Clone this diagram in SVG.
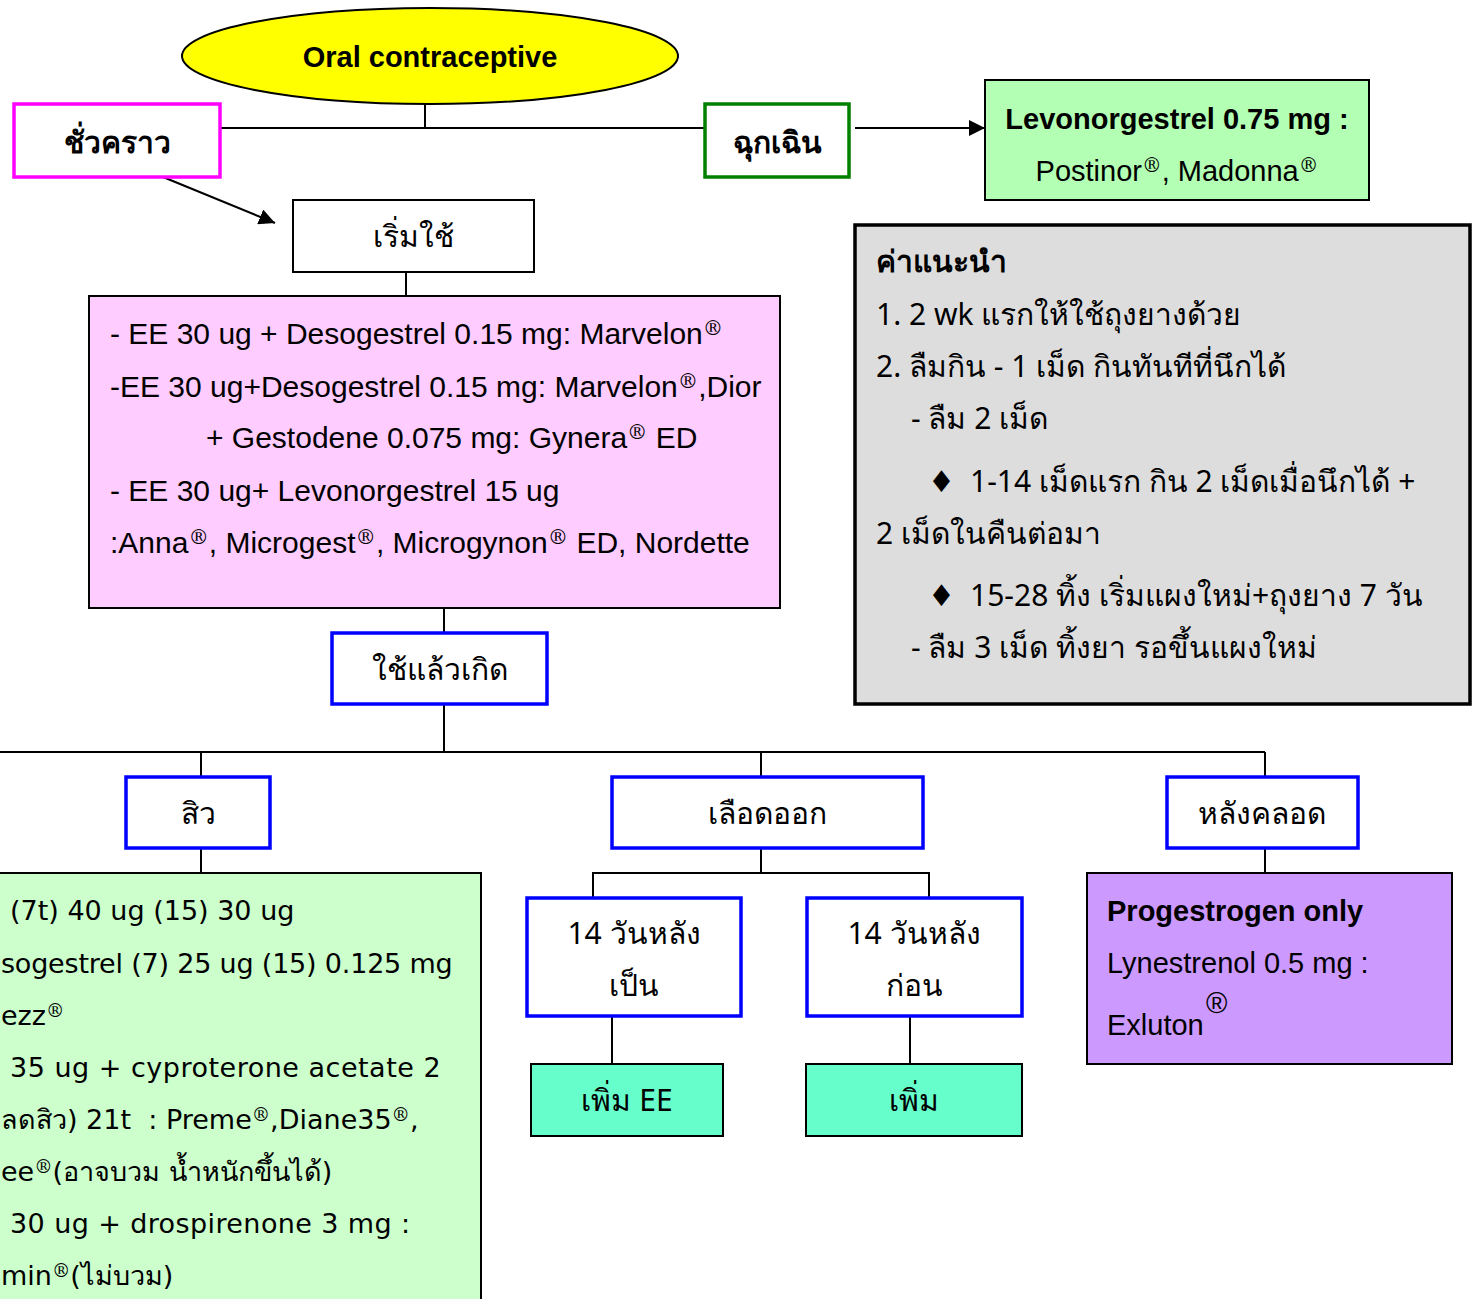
<svg xmlns="http://www.w3.org/2000/svg" width="1476" height="1299" viewBox="0 0 1476 1299">
<style>
.t{font-family:"Liberation Sans","Noto Sans","DejaVu Sans",sans-serif;font-size:29px;fill:#000}
.p{font-size:30px}
.th{font-family:"Noto Sans","DejaVu Sans","Liberation Sans",sans-serif;font-size:30px;fill:#000}
.d{font-family:"DejaVu Sans","Noto Sans",sans-serif;font-size:27px;fill:#000}
.b{font-weight:bold}
.c{text-anchor:middle}
.sup{font-size:68%;baseline-shift:45%;font-family:"DejaVu Serif","Liberation Serif",serif}
.line{stroke:#000;stroke-width:2;fill:none}
.blue{fill:#fff;stroke:#0000FF;stroke-width:3.5}
</style>
<defs>
<marker id="ah" viewBox="0 0 10 10" refX="10" refY="5" markerWidth="16" markerHeight="16" markerUnits="userSpaceOnUse" orient="auto">
<path d="M0,0 L10,5 L0,10 Z" fill="#000"/>
</marker>
</defs>
<rect width="1476" height="1299" fill="#fff"/>

<g id="connectors">
<line class="line" x1="425" y1="104" x2="425" y2="128"/>
<line class="line" x1="220" y1="128" x2="705" y2="128"/>
<line class="line" x1="163" y1="177" x2="275" y2="223" marker-end="url(#ah)"/>
<line class="line" x1="855" y1="128" x2="985" y2="128" marker-end="url(#ah)"/>
<line class="line" x1="406" y1="272" x2="406" y2="296"/>
<line class="line" x1="444" y1="608" x2="444" y2="632"/>
<line class="line" x1="444" y1="705" x2="444" y2="752"/>
<line class="line" x1="0" y1="752" x2="1265" y2="752"/>
<line class="line" x1="201" y1="752" x2="201" y2="776"/>
<line class="line" x1="761" y1="752" x2="761" y2="776"/>
<line class="line" x1="1265" y1="752" x2="1265" y2="776"/>
<line class="line" x1="201" y1="849" x2="201" y2="873"/>
<line class="line" x1="761" y1="849" x2="761" y2="873"/>
<polyline class="line" points="593,897 593,873 929,873 929,897"/>
<line class="line" x1="612" y1="1017" x2="612" y2="1064"/>
<line class="line" x1="910" y1="1017" x2="910" y2="1064"/>
<line class="line" x1="1265" y1="849" x2="1265" y2="873"/>
</g>

<g id="oral">
<ellipse cx="430" cy="56" rx="248" ry="48" fill="#FFFF00" stroke="#000" stroke-width="2"/>
<text class="t b c" x="430" y="67">Oral contraceptive</text>
</g>

<g id="temporary">
<rect x="14" y="104" width="206" height="73" fill="#fff" stroke="#FF00FF" stroke-width="3.5"/>
<text class="th b c" x="117" y="153" font-size="32">ชั่วคราว</text>
</g>

<g id="emergency">
<rect x="705" y="104" width="144" height="73" fill="#fff" stroke="#008000" stroke-width="3.5"/>
<text class="th b c" x="777" y="153" font-size="32">ฉุกเฉิน</text>
</g>

<g id="levonorgestrel">
<rect x="985" y="80" width="384" height="120" fill="#B3FFB3" stroke="#000" stroke-width="2"/>
<text class="t b c" x="1177" y="129">Levonorgestrel 0.75 mg :</text>
<text class="t c" x="1177" y="181">Postinor<tspan class="sup">®</tspan>, Madonna<tspan class="sup">®</tspan></text>
</g>

<g id="start">
<rect x="293" y="200" width="241" height="72" fill="#fff" stroke="#000" stroke-width="2"/>
<text class="th c" x="413" y="247">เริ่มใช้</text>
</g>

<g id="combined">
<rect x="89" y="296" width="691" height="312" fill="#FFCCFF" stroke="#000" stroke-width="2"/>
<text class="t p" x="110" y="344">- EE 30 ug + Desogestrel 0.15 mg: Marvelon<tspan class="sup">®</tspan></text>
<text class="t p" x="110" y="397">-EE 30 ug+Desogestrel 0.15 mg: Marvelon<tspan class="sup">®</tspan>,Dior</text>
<text class="t p" x="206" y="448">+ Gestodene 0.075 mg: Gynera<tspan class="sup">®</tspan> ED</text>
<text class="t p" x="110" y="501">- EE 30 ug+ Levonorgestrel 15 ug</text>
<text class="t p" x="110" y="553">:Anna<tspan class="sup">®</tspan>, Microgest<tspan class="sup">®</tspan>, Microgynon<tspan class="sup">®</tspan> ED, Nordette</text>
</g>

<g id="advice">
<rect x="855" y="225" width="615" height="479" fill="#DDDDDD" stroke="#000" stroke-width="3.5"/>
<text class="th b" x="876" y="272">ค่าแนะนำ</text>
<text class="th" x="876" y="325">1. 2 wk แรกให้ใช้ถุงยางด้วย</text>
<text class="th" x="876" y="377">2. ลืมกิน - 1 เม็ด กินทันทีที่นึกได้</text>
<text class="th" x="911" y="429">- ลืม 2 เม็ด</text>
<text class="th" x="928" y="492">♦</text>
<text class="th" x="970" y="492">1-14 เม็ดแรก กิน 2 เม็ดเมื่อนึกได้ +</text>
<text class="th" x="876" y="544">2 เม็ดในคืนต่อมา</text>
<text class="th" x="928" y="606">♦</text>
<text class="th" x="970" y="606">15-28 ทิ้ง เริ่มแผงใหม่+ถุงยาง 7 วัน</text>
<text class="th" x="911" y="658">- ลืม 3 เม็ด ทิ้งยา รอขึ้นแผงใหม่</text>
</g>

<g id="after-use">
<rect x="332" y="633" width="215" height="71" class="blue"/>
<text class="th c" x="440" y="680">ใช้แล้วเกิด</text>
</g>

<g id="acne">
<rect x="126" y="777" width="144" height="71" class="blue"/>
<text class="th c" x="198" y="824">สิว</text>
</g>

<g id="acne-pills">
<rect x="-2" y="873" width="483" height="440" fill="#CCFFCC" stroke="#000" stroke-width="2"/>
<text class="d" x="10" y="920">(7t) 40 ug (15) 30 ug</text>
<text class="d" x="1" y="973" letter-spacing="-0.2">sogestrel (7) 25 ug (15) 0.125 mg</text>
<text class="d" x="1" y="1025">ezz<tspan class="sup">®</tspan></text>
<text class="d" x="10" y="1077" letter-spacing="0.5">35 ug + cyproterone acetate 2</text>
<text class="d" x="1" y="1129">ลดสิว) 21t &#160;: Preme<tspan class="sup">®</tspan>,Diane35<tspan class="sup">®</tspan>,</text>
<text class="d" x="1" y="1181">ee<tspan class="sup">®</tspan>(อาจบวม น้ำหนักขึ้นได้)</text>
<text class="d" x="10" y="1233" letter-spacing="0.4">30 ug + drospirenone 3 mg :</text>
<text class="d" x="1" y="1285">min<tspan class="sup">®</tspan>(ไม่บวม)</text>
</g>

<g id="bleeding">
<rect x="612" y="777" width="311" height="71" class="blue"/>
<text class="th c" x="767" y="824">เลือดออก</text>
</g>

<g id="after-period">
<rect x="527" y="898" width="214" height="118" class="blue"/>
<text class="th c" x="634" y="944">14 วันหลัง</text>
<text class="th c" x="634" y="996">เป็น</text>
</g>

<g id="before-period">
<rect x="807" y="898" width="215" height="118" class="blue"/>
<text class="th c" x="914" y="944">14 วันหลัง</text>
<text class="th c" x="914" y="996">ก่อน</text>
</g>

<g id="add-ee">
<rect x="531" y="1064" width="192" height="72" fill="#66FFCC" stroke="#000" stroke-width="2"/>
<text class="th c" x="627" y="1111">เพิ่ม EE</text>
</g>

<g id="add">
<rect x="806" y="1064" width="216" height="72" fill="#66FFCC" stroke="#000" stroke-width="2"/>
<text class="th c" x="914" y="1111">เพิ่ม</text>
</g>

<g id="postpartum">
<rect x="1167" y="777" width="191" height="71" class="blue"/>
<text class="th c" x="1262" y="824">หลังคลอด</text>
</g>

<g id="progestogen">
<rect x="1087" y="873" width="365" height="191" fill="#CC99FF" stroke="#000" stroke-width="2"/>
<text class="t b" x="1107" y="921">Progestrogen only</text>
<text class="t" x="1107" y="973">Lynestrenol 0.5 mg :</text>
<text class="t" x="1107" y="1035">Exluton</text>
<text class="t" x="1206" y="1013" font-size="22" font-family="DejaVu Serif, serif">®</text>
</g>
</svg>
